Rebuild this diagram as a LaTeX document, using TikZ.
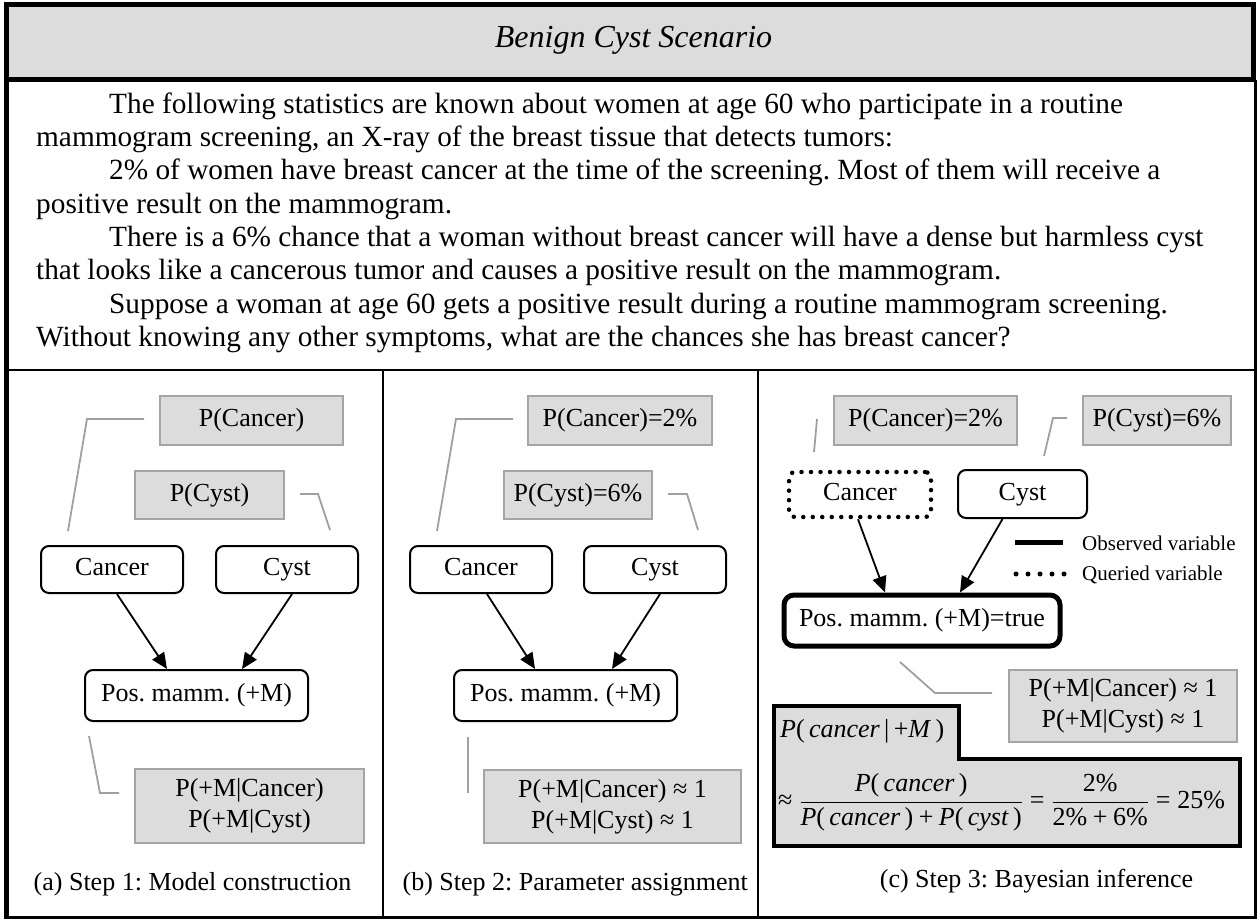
\documentclass[tikz,border=0pt]{standalone}
\usepackage{fontspec}
\setmainfont{Liberation Serif}
\usepackage{amsmath}
\usetikzlibrary{arrows.meta,calc}
\definecolor{boxgray}{RGB}{220,220,220}
\definecolor{edgegray}{RGB}{165,165,165}
\definecolor{leadgray}{RGB}{160,160,160}
\newcommand{\plp}{\textup{(}}
\newcommand{\prp}{\textup{)}}

\begin{document}
\frenchspacing
\begin{tikzpicture}[x=1pt,y=-1pt,
  every node/.style={font=\fontsize{26}{31}\selectfont, inner sep=0pt},
  param/.style={draw=edgegray, line width=2pt, fill=boxgray, align=center},
  var/.style={draw=black, line width=2pt, rounded corners=8pt, text height=18pt, text depth=6pt},
  lead/.style={draw=leadgray, line width=1.8pt},
  arr/.style={draw=black, line width=1.8pt, -{Triangle[length=16pt,width=14pt]}},
  line/.style={anchor=base west, font=\fontsize{29.3}{33.3}\selectfont},
  legend/.style={anchor=west, font=\fontsize{21}{25}\selectfont},
]
\useasboundingbox (0,0) rectangle (1257,920);

% frame, title band and table rules
\fill[white] (0,0) rectangle (1257,920);
\draw[line width=5pt, fill=boxgray] (6,4.5) rectangle (1253.5,80);
\draw[line width=3pt] (1255,80) -- (1255,917.5) -- (6,917.5);
\draw[line width=5pt] (6,80) -- (6,919);
\draw[line width=2pt] (6,370) -- (1255,370);
\draw[line width=2pt] (383,370) -- (383,917);
\draw[line width=2pt] (758,370) -- (758,917);

\node[anchor=base, font=\fontsize{32}{38}\selectfont\itshape] (title) at (633.5,48) {Benign Cyst Scenario};

% scenario text
\node[line] (t1) at (109,113.3) {The following statistics are known about women at age 60 who participate in a routine};
\node[line] (t2) at (36,146.6) {mammogram screening, an X-ray of the breast tissue that detects tumors:};
\node[line] (t3) at (109,179.9) {2\% of women have breast cancer at the time of the screening. Most of them will receive a};
\node[line] (t4) at (36,213.2) {positive result on the mammogram.};
\node[line] (t5) at (109,246.5) {There is a 6\% chance that a woman without breast cancer will have a dense but harmless cyst};
\node[line] (t6) at (36,279.8) {that looks like a cancerous tumor and causes a positive result on the mammogram.};
\node[line] (t7) at (109,313.1) {Suppose a woman at age 60 gets a positive result during a routine mammogram screening.};
\node[line] (t8) at (36,346.4) {Without knowing any other symptoms, what are the chances she has breast cancer?};

% ---------- (a) model construction ----------
\node[param, minimum width=183pt, minimum height=49pt] (pa1) at (251.5,420.5) {P(Cancer)};
\node[param, minimum width=149pt, minimum height=48pt] (pa2) at (209.5,495) {P(Cyst)};
\node[var, minimum width=142pt, minimum height=47pt] (na1) at (112,569.5) {Cancer};
\node[var, minimum width=142pt, minimum height=47pt] (na2) at (287,569.5) {Cyst};
\node[var, minimum width=223pt, minimum height=51pt] (na3) at (196.5,695.5) {Pos. mamm. (+M)};
\node[param, minimum width=229pt, minimum height=74pt] (ta) at (249.5,806) {P(+M|Cancer)\\P(+M|Cyst)};
\draw[arr] ([xshift=5pt]na1.south) -- ([xshift=-29.5pt]na3.north);
\draw[arr] ([xshift=5pt]na2.south) -- ([xshift=45.5pt]na3.north);
\draw[lead] (144,419) -- (87,419) -- (68,531);
\draw[lead] (300,494) -- (318,494) -- (330,530);
\draw[lead] (89,736) -- (100,793) -- (119,793);
\node[anchor=base west] (capa) at (33.5,890) {(a) Step 1: Model construction};

% ---------- (b) parameter assignment ----------
\node[param, minimum width=184pt, minimum height=49pt] (pb1) at (620,420.5) {P(Cancer)=2\%};
\node[param, minimum width=148pt, minimum height=48pt] (pb2) at (578,495) {P(Cyst)=6\%};
\node[var, minimum width=142pt, minimum height=47pt] (nb1) at (481,569.5) {Cancer};
\node[var, minimum width=142pt, minimum height=47pt] (nb2) at (655,569.5) {Cyst};
\node[var, minimum width=223pt, minimum height=51pt] (nb3) at (565.5,695.5) {Pos. mamm. (+M)};
\node[param, minimum width=257pt, minimum height=73pt] (tb) at (612.5,806.5) {P(+M|Cancer) ≈ 1\\P(+M|Cyst) ≈ 1};
\draw[arr] ([xshift=6pt]nb1.south) -- ([xshift=-30.5pt]nb3.north);
\draw[arr] ([xshift=5pt]nb2.south) -- ([xshift=46.5pt]nb3.north);
\draw[lead] (513,419) -- (456,419) -- (437,531);
\draw[lead] (668,494) -- (687,494) -- (698,530);
\draw[lead] (468,737) -- (468,793);
\node[anchor=base east] (capb) at (748,890) {(b) Step 2: Parameter assignment};

% ---------- (c) Bayesian inference ----------
\node[param, minimum width=183pt, minimum height=49pt] (pc1) at (925.5,420.5) {P(Cancer)=2\%};
\node[param, minimum width=148pt, minimum height=49pt] (pc2) at (1157,420.5) {P(Cyst)=6\%};
\node[draw=black, line width=4.5pt, line cap=round, dash pattern=on 0pt off 9.5pt,
      rounded corners=6pt, minimum width=142pt, minimum height=45pt,
      text height=18pt, text depth=6pt] (nc1) at (860,494.5) {Cancer};
\node[var, minimum width=129pt, minimum height=48pt] (nc2) at (1022.5,494) {Cyst};
\node[draw=black, line width=5pt, rounded corners=10pt, minimum width=276pt, minimum height=51pt,
      text height=18pt, text depth=6pt] (nc3) at (922,620.5) {Pos. mamm. (+M)=true};
\node[param, minimum width=228pt, minimum height=72pt] (tc) at (1123,706) {P(+M|Cancer) ≈ 1\\P(+M|Cyst) ≈ 1};
\draw[arr] ([xshift=-2pt]nc1.south) -- ([xshift=-37pt]nc3.north);
\draw[arr] ([xshift=-20pt]nc2.south) -- ([xshift=38pt]nc3.north);
\draw[lead] (817,419) -- (814,452);
\draw[lead] (1067,418) -- (1053,418) -- (1044,456);
\draw[lead] (900,662) -- (935,693) -- (992,693);

% legend
\draw[line width=5pt] (1015,542) -- (1063,542);
\draw[line width=5pt, line cap=round, dash pattern=on 0pt off 12pt] (1016,574) -- (1064,574);
\node[legend] (lobs) at (1082,543) {Observed variable};
\node[legend] (lqry) at (1082,575) {Queried variable};

% posterior
\draw[line width=4pt, fill=boxgray] (774,706) -- (959,706) -- (959,759) -- (1240,759) -- (1240,846) -- (774,846) -- cycle;
\node[anchor=base west] (fq) at (780,737) {\textit{P}(\,\textit{cancer}\,|\,+\textit{M}\,)};
\node[anchor=base west] (fx) at (778,808.5) {$\mathrel{\text{≈}}\dfrac{\text{\textit{P}\plp\,\textit{cancer}\,\prp}}{\text{\textit{P}\plp\,\textit{cancer}\,\prp}\mathbin{\text{+}}\text{\textit{P}\plp\,\textit{cyst}\,\prp}}\mathrel{\text{=}}\dfrac{\text{2\%}}{\text{2\%}\mathbin{\text{+}}\text{6\%}}\mathrel{\text{=}}\text{25\%}$};
\node[anchor=base] (capc) at (1036.5,887) {(c) Step 3: Bayesian inference};
\end{tikzpicture}
\end{document}
